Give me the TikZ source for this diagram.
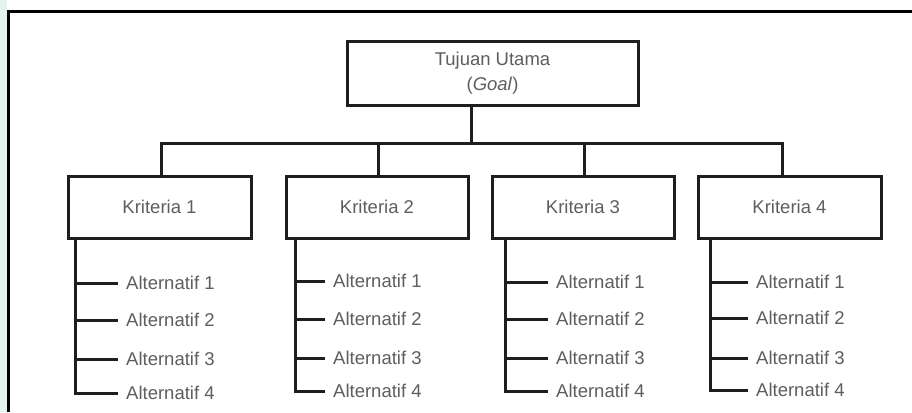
\documentclass[tikz,border=0pt]{standalone}
\usepackage{fontspec}
\setmainfont{Liberation Sans}
\definecolor{linecol}{HTML}{1E1E1E}
\definecolor{textcol}{HTML}{5E5E5E}
\definecolor{mint}{HTML}{E3F4EC}
\begin{document}
\begin{tikzpicture}[x=1pt,y=-1pt,
  conn/.style={draw=linecol,line width=3pt},
  box/.style={draw=linecol,line width=3pt,fill=white,text=textcol,
    font=\fontsize{18.5}{22}\selectfont,align=center,inner sep=0pt},
  alt/.style={anchor=west,text=textcol,font=\fontsize{18.5}{20}\selectfont,
    inner xsep=8pt,inner ysep=0pt}]
\useasboundingbox (0,0) rectangle (912,412);
% page background and frame
\fill[white] (0,0) rectangle (912,412);
\fill[mint] (0,0) rectangle (7,412);
\draw[black,line width=3.5pt] (8.5,412) -- (8.5,11.5) -- (912,11.5);

% goal and criteria
\node[box,minimum width=291pt,minimum height=63pt] (goal) at (492.5,73.5)
  {Tujuan Utama\\[3pt](\textit{Goal})};
\node[box,minimum width=183pt,minimum height=62pt] (k1) at (159.5,207) {Kriteria 1};
\node[box,minimum width=182pt,minimum height=62pt] (k2) at (377,207) {Kriteria 2};
\node[box,minimum width=182pt,minimum height=62pt] (k3) at (583,207) {Kriteria 3};
\node[box,minimum width=183pt,minimum height=62pt] (k4) at (789.5,207) {Kriteria 4};

% bus between goal and criteria
\coordinate (g) at (471,143);
\coordinate (b1) at (161,143);
\coordinate (b2) at (378,143);
\coordinate (b3) at (584,143);
\coordinate (b4) at (782,143);
\draw[conn] (g |- goal.south) -- (g);
\draw[conn,line cap=rect] (b1) -- (b4);
\draw[conn] (b1) -- (b1 |- k1.north);
\draw[conn] (b2) -- (b2 |- k2.north);
\draw[conn] (b3) -- (b3 |- k3.north);
\draw[conn] (b4) -- (b4 |- k4.north);

% alternatives under each criterion
\foreach \k/\tx/\te/\ya/\yb/\yc/\yd in {
    1/75/118/283/320/359/393,
    2/295/325/281/319/358/391,
    3/505/548/282/319/358/391,
    4/710/748/282/318/358/390}{
  \node[alt] (a\k1) at (\te,\ya) {Alternatif 1};
  \node[alt] (a\k2) at (\te,\yb) {Alternatif 2};
  \node[alt] (a\k3) at (\te,\yc) {Alternatif 3};
  \node[alt] (a\k4) at (\te,\yd) {Alternatif 4};
  \coordinate (t\k) at (\tx,0);
  \draw[conn] (t\k |- k\k.south) |- (a\k4.west);
  \draw[conn] (t\k |- a\k1.west) -- (a\k1.west);
  \draw[conn] (t\k |- a\k2.west) -- (a\k2.west);
  \draw[conn] (t\k |- a\k3.west) -- (a\k3.west);
}
\end{tikzpicture}
\end{document}
